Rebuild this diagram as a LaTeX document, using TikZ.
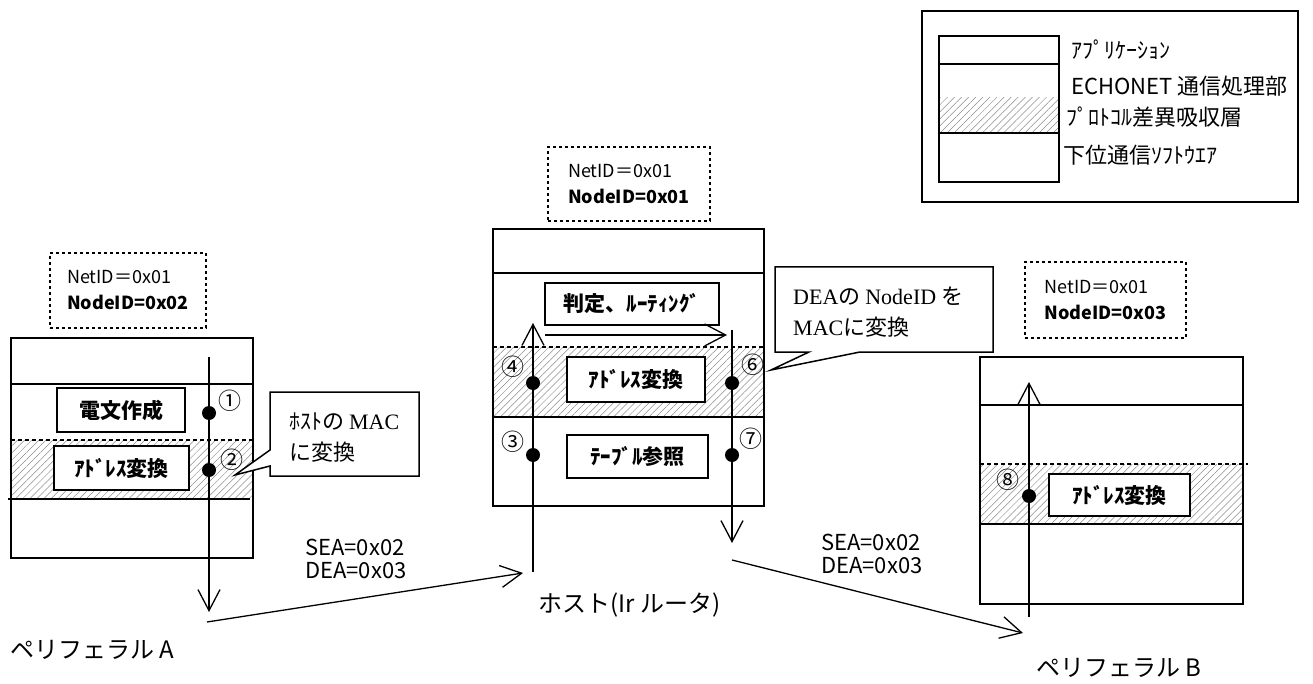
\documentclass[tikz,border=0pt]{standalone}
\usepackage{fontspec}
\newfontfamily\jp{Noto Sans CJK JP}
\newfontfamily\lser{Liberation Serif}
\usetikzlibrary{arrows.meta,patterns.meta}
\tikzset{
  frame/.style={line width=1.5pt},
  dline/.style={line width=1.3pt, dash pattern=on 4pt off 3pt},
  hatch/.style={pattern={Lines[angle=45,distance=5pt,line width=0.5pt]}, pattern color=black!45},
  lbox/.style={draw, line width=1.5pt, fill=white, inner sep=0pt, font=\jp\bfseries\fontsize{21}{21}\selectfont},
  idbox/.style={draw, line width=1.3pt, dash pattern=on 3pt off 3pt, align=left, inner sep=0pt, font=\jp\fontsize{18}{26}\selectfont},
  dotn/.style={circle, fill=black, inner sep=0pt, minimum size=14pt},
  num/.style={font=\jp\fontsize{23}{23}\selectfont, inner sep=0pt},
  ltext/.style={font=\jp\fontsize{22}{22}\selectfont, inner sep=0pt, anchor=west},
  btext/.style={font=\jp\fontsize{24}{24}\selectfont, inner sep=0pt, anchor=west},
  addr/.style={font=\jp\fontsize{22}{23}\selectfont, inner sep=0pt, anchor=west, align=left},
  ctext/.style={font=\jp\fontsize{22}{31}\selectfont, inner sep=0pt, anchor=west, align=left},
  arr/.style={line width=1.3pt, -{Straight Barb[length=21pt,width=22pt]}},
}
\begin{document}
\begin{tikzpicture}[x=1pt,y=-1pt]
\useasboundingbox (0,0) rectangle (1313,684);

% ---------------- legend ----------------
\draw[frame] (922,11) rectangle (1298,202);
\fill[hatch] (939,98) rectangle (1059,133);
\draw[frame] (939,36) rectangle (1059,182);
\draw[frame] (939,64) -- (1059,64);
\draw[frame] (939,133) -- (1059,133);
\node[ltext] (lg1) at (1071,50) {ｱﾌﾟﾘｹｰｼｮﾝ};
\node[ltext] (lg2) at (1071,86) {ECHONET 通信処理部};
\node[ltext] (lg3) at (1066,117) {ﾌﾟﾛﾄｺﾙ差異吸収層};
\node[ltext] (lg4) at (1063,155) {下位通信ｿﾌﾄｳｴｱ};

% ---------------- peripheral A ----------------
\fill[hatch] (11,440) rectangle (253,499);
\draw[frame] (11,338) rectangle (253,558);
\draw[frame] (11,384) -- (253,384);
\draw[dline] (11,440) -- (253,440);
\draw[frame] (8,499) -- (250,499);
\node[idbox, minimum width=156pt, minimum height=75pt] (idA) at (128,290.5)
  {NetID＝0x01\\\textbf{NodeID=0x02}};
\node[lbox, minimum width=128pt, minimum height=44pt] (a1) at (121,410) {電文作成};
\node[lbox, minimum width=135pt, minimum height=44pt] (a2) at (121.5,468) {ｱﾄﾞﾚｽ変換};
\coordinate (aTop) at (209,357);
\coordinate (aBot) at (209,612);
\draw[arr] (aTop) -- (aBot);
\node[dotn] (d1) at (209,413) {};
\node[dotn] (d2) at (209,470) {};
\node[num] (n1) at (230,401) {①};
\node[num] (n2) at (232,460) {②};
% callout A
\draw[frame, fill=white] (270,392) -- (419,392) -- (419,476) -- (270,476) -- (270,466) -- (235,475) -- (270,450) -- cycle;
\node[ctext] (cA) at (289,437.5) {ﾎｽﾄの {\lser MAC}\\に変換};

% ---------------- host ----------------
\fill[hatch] (493,347) rectangle (764,417);
\draw[frame] (493,229) rectangle (764,506);
\draw[frame] (493,273) -- (764,273);
\draw[dline] (493,347) -- (764,347);
\draw[frame] (493,417) -- (764,417);
\node[idbox, minimum width=162pt, minimum height=74pt] (idH) at (629,184)
  {NetID＝0x01\\\textbf{NodeID=0x01}};
\node[lbox, minimum width=174pt, minimum height=42pt] (h1) at (632,304) {判定、ﾙｰﾃｨﾝｸﾞ};
\node[lbox, minimum width=138pt, minimum height=45pt] (h2) at (636,379.5) {ｱﾄﾞﾚｽ変換};
\node[lbox, minimum width=141pt, minimum height=43pt] (h3) at (637.5,456.5) {ﾃｰﾌﾞﾙ参照};
\coordinate (hLbot) at (533,572);
\coordinate (hLtop) at (533,323);
\coordinate (hHs) at (545,335);
\coordinate (hHe) at (727,335);
\coordinate (hRtop) at (732,330);
\coordinate (hRbot) at (732,543);
\draw[arr] (hLbot) -- (hLtop);
\draw[arr] (hHs) -- (hHe);
\draw[arr] (hRtop) -- (hRbot);
\node[dotn] (d4) at (533,383) {};
\node[dotn] (d3) at (533,455) {};
\node[dotn] (d6) at (732,383) {};
\node[dotn] (d7) at (732,455) {};
\node[num] (n4) at (513,367) {④};
\node[num] (n3) at (513,442) {③};
\node[num] (n6) at (753,365) {⑥};
\node[num] (n7) at (751,439) {⑦};
% callout host
\draw[frame, fill=white] (775,267) -- (993,267) -- (993,352) -- (860,352) -- (771,370) -- (809,352) -- (775,352) -- cycle;
\node[ctext] (cH) at (793,312.5) {{\lser DEA}の {\lser NodeID} を\\{\lser MAC}に変換};

% ---------------- peripheral B ----------------
\fill[hatch] (980,464) rectangle (1243,524);
\draw[frame] (980,357) rectangle (1243,604);
\draw[frame] (980,405) -- (1243,405);
\draw[dline] (980,464) -- (1248,464);
\draw[frame] (980,524) -- (1243,524);
\node[idbox, minimum width=161pt, minimum height=76pt] (idB) at (1105.5,300)
  {NetID＝0x01\\\textbf{NodeID=0x03}};
\node[lbox, minimum width=141pt, minimum height=42pt] (b1) at (1119.5,495) {ｱﾄﾞﾚｽ変換};
\coordinate (bBot) at (1029,617);
\coordinate (bTop) at (1029,382);
\draw[arr] (bBot) -- (bTop);
\node[dotn] (d8) at (1029,496) {};
\node[num] (n8) at (1008,480) {⑧};

% ---------------- links ----------------
\coordinate (lkA) at (207,622);
\coordinate (lkH) at (523,573);
\coordinate (lkH2) at (732,560);
\coordinate (lkB) at (1023,633);
\draw[arr] (lkA) -- (lkH);
\draw[arr] (lkH2) -- (lkB);
\node[addr] (s1) at (305,558.5) {SEA=0x02\\DEA=0x03};
\node[addr] (s2) at (821,553.5) {SEA=0x02\\DEA=0x03};

% ---------------- bottom labels ----------------
\node[btext] (pA) at (10,650) {ペリフェラル A};
\node[btext] (pH) at (538,605) {ホスト(Ir ルータ)};
\node[btext] (pB) at (1036,668) {ペリフェラル B};
\end{tikzpicture}
\end{document}
